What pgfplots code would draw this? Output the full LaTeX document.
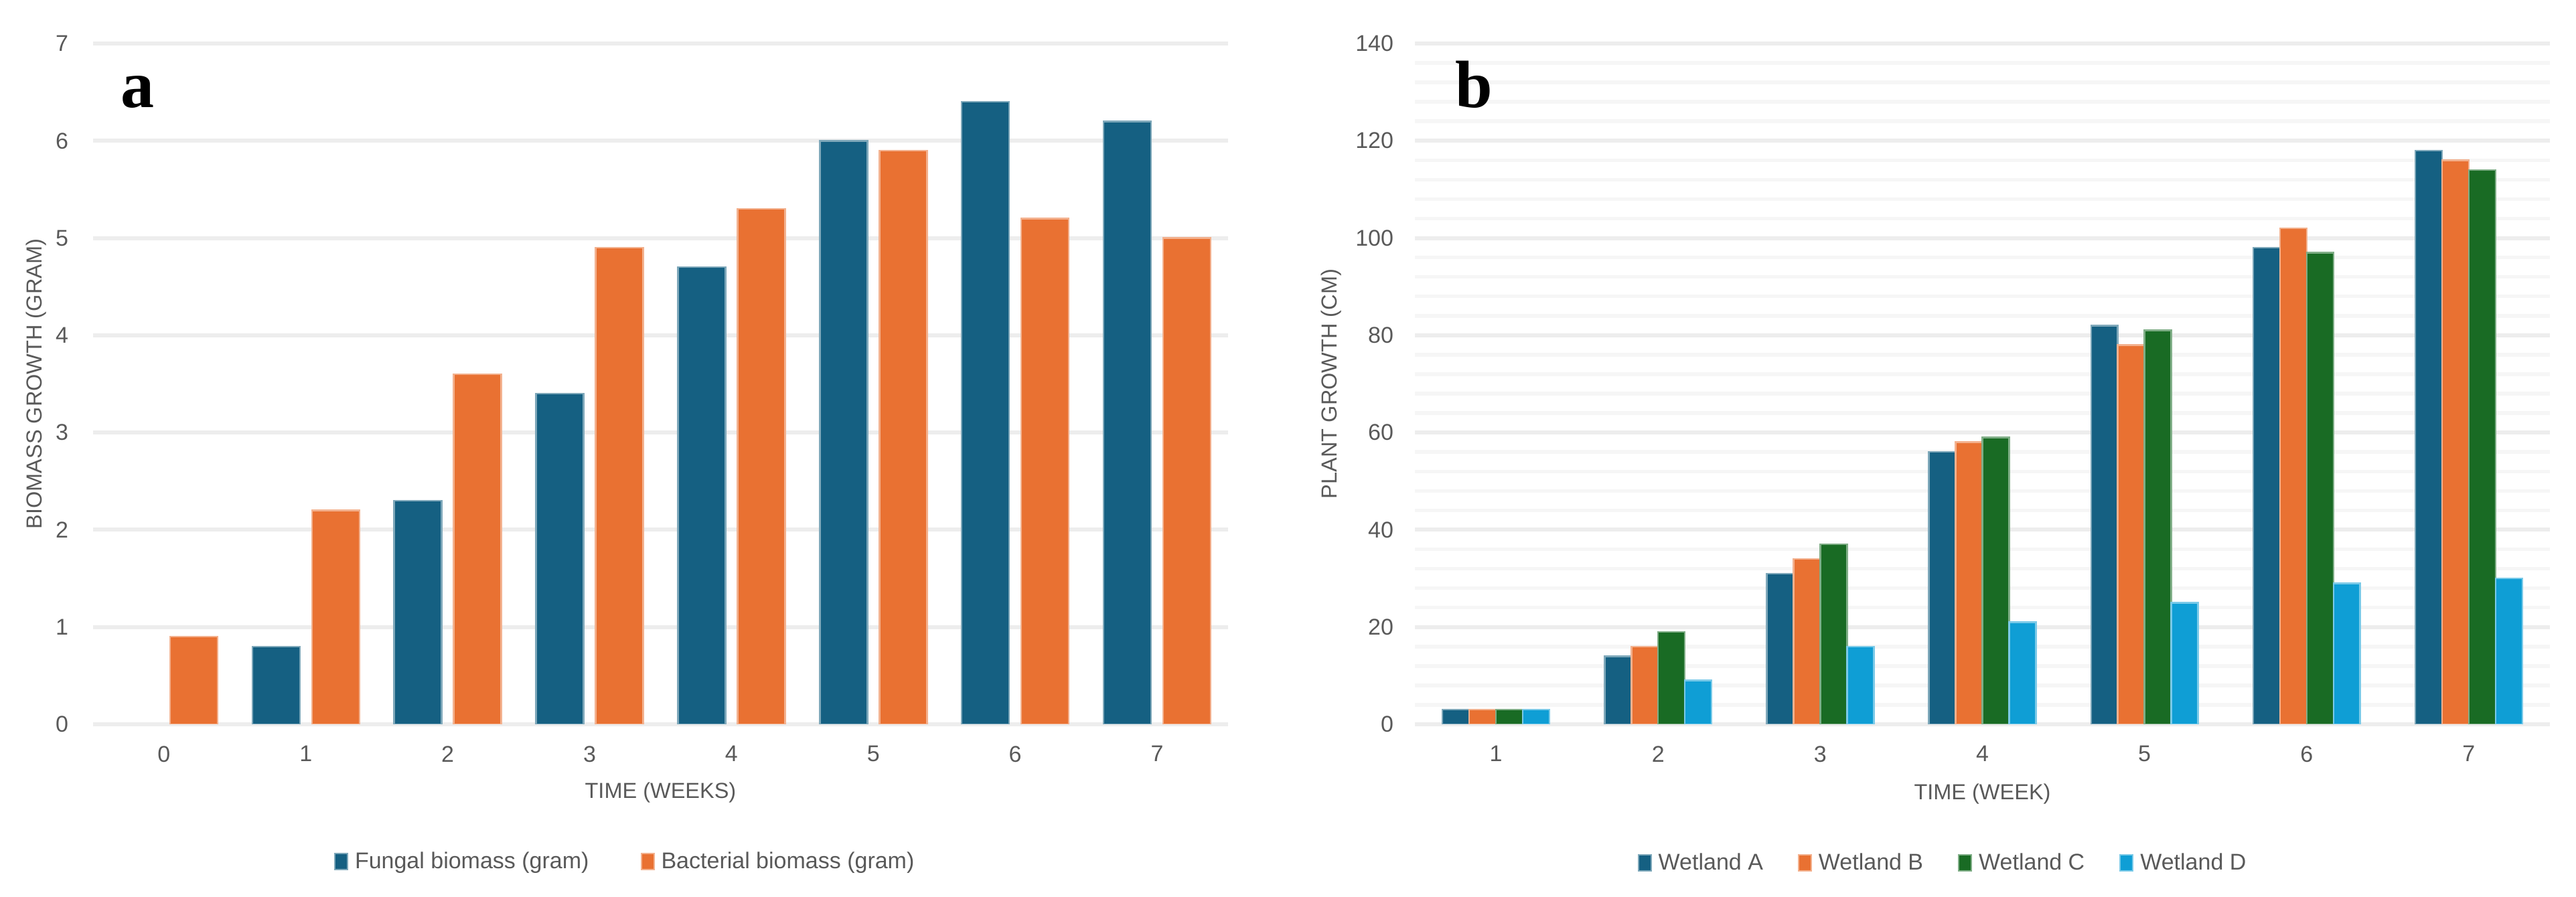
\documentclass[border=0pt]{standalone}
\usepackage{fontspec}
\setmainfont{Liberation Sans}
\newfontfamily\serifbold{Liberation Serif}
\usepackage{pgfplots}
\pgfplotsset{compat=1.18}
\definecolor{cA}{HTML}{156082}
\definecolor{cB}{HTML}{E97132}
\definecolor{cC}{HTML}{196B24}
\definecolor{cD}{HTML}{0F9ED5}
\definecolor{txt}{HTML}{595959}
\definecolor{gridmaj}{HTML}{EDEDED}
\definecolor{gridmin}{HTML}{F6F6F6}
\pgfplotsset{
  mystyle/.style={
    scale only axis, anchor=south west,
    axis line style={draw=none},
    major tick length=0pt, minor tick length=0pt,
    tick style={draw=none},
    ymajorgrids, major grid style={gridmaj, line width=1.2pt},
    minor grid style={gridmin, line width=1.1pt},
    /pgf/number format/assume math mode=true,
    ticklabel style={font=\fontsize{6.8}{8}\selectfont, text=txt},
    xticklabel style={anchor=north, inner sep=0pt, yshift=-6.3pt},
    label style={font=\fontsize{6.5}{8}\selectfont, text=txt},
    legend image code/.code={\draw[##1, line width=0.4pt] (0pt,-2.2pt) rectangle (3.8pt,2.6pt);},
    legend columns=-1,
    legend style={draw=none, fill=none, inner sep=0pt, outer sep=0pt, anchor=west,
      font=\fontsize{6.8}{8}\selectfont, text=txt},
    width=339pt, height=203.4pt,
  },
  bA/.style={fill=cA, draw=cA!55!white, line width=0.5pt},
  bB/.style={fill=cB, draw=cB!55!white, line width=0.5pt},
  bC/.style={fill=cC, draw=cC!55!white, line width=0.5pt},
  bD/.style={fill=cD, draw=cD!55!white, line width=0.5pt},
}
\begin{document}
\begin{tikzpicture}
\path[use as bounding box] (0pt,0pt) rectangle (769.4pt,268pt);
% Panel a
\begin{axis}[mystyle,
  at={(27.8pt,51.6pt)},
  xmin=-0.5, xmax=7.5, ymin=0, ymax=7,
  xtick={0,1,2,3,4,5,6,7}, ytick={0,1,2,3,4,5,6,7},
  yticklabel style={anchor=east, inner sep=0pt, xshift=-7.2pt},
  xlabel={TIME (WEEKS)}, ylabel={BIOMASS GROWTH (GRAM)},
  xlabel style={at={(axis description cs:0.5,-0.100)}, anchor=center},
  ylabel style={at={(axis description cs:-0.0501,0.5)}, anchor=center},
  legend style={at={(axis description cs:0.2124,-0.203)},
    /tikz/every even column/.append style={column sep=13.4pt}},
]
\addplot[ybar, bar width=0.335, bar shift=-0.21, bA] coordinates {(1,0.8) (2,2.3) (3,3.4) (4,4.7) (5,6.0) (6,6.4) (7,6.2)};
\addplot[ybar, bar width=0.335, bar shift=0.21, bB] coordinates {(0,0.9) (1,2.2) (2,3.6) (3,4.9) (4,5.3) (5,5.9) (6,5.2) (7,5.0)};
\legend{Fungal biomass (gram), Bacterial biomass (gram)}
\end{axis}
% Panel b
\begin{axis}[mystyle,
  at={(422.6pt,51.6pt)},
  xmin=0.5, xmax=7.5, ymin=0, ymax=140,
  xtick={1,2,3,4,5,6,7}, ytick={0,20,40,60,80,100,120,140},
  minor ytick={4,8,...,136}, yminorgrids,
  yticklabel style={anchor=east, inner sep=0pt, xshift=-6.2pt},
  xlabel={TIME (WEEK)}, ylabel={PLANT GROWTH (CM)},
  xlabel style={at={(axis description cs:0.5,-0.102)}, anchor=center},
  ylabel style={at={(axis description cs:-0.0737,0.5)}, anchor=center},
  legend style={at={(axis description cs:0.1963,-0.205)},
    /tikz/every even column/.append style={column sep=8.4pt}},
]
\addplot[ybar, bar width=0.165, bar shift=-0.2475, bA] coordinates {(1,3) (2,14) (3,31) (4,56) (5,82) (6,98) (7,118)};
\addplot[ybar, bar width=0.165, bar shift=-0.0825, bB] coordinates {(1,3) (2,16) (3,34) (4,58) (5,78) (6,102) (7,116)};
\addplot[ybar, bar width=0.165, bar shift=0.0825, bC] coordinates {(1,3) (2,19) (3,37) (4,59) (5,81) (6,97) (7,114)};
\addplot[ybar, bar width=0.165, bar shift=0.2475, bD] coordinates {(1,3) (2,9) (3,16) (4,21) (5,25) (6,29) (7,30)};
\legend{Wetland A, Wetland B, Wetland C, Wetland D}
\end{axis}
\node[anchor=base west, inner sep=0pt, font=\serifbold\bfseries\fontsize{20}{24}\selectfont] at (35.8pt,235.8pt) {a};
\node[anchor=base west, inner sep=0pt, font=\serifbold\bfseries\fontsize{20}{24}\selectfont] at (434.4pt,235.8pt) {b};
\end{tikzpicture}
\end{document}
